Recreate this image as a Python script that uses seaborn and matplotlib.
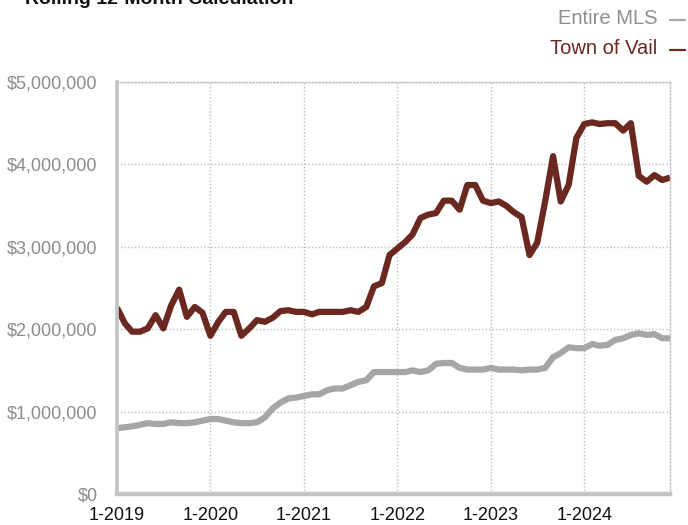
import matplotlib
matplotlib.use('Agg')
import matplotlib.pyplot as plt
import matplotlib.dates as mdates
import matplotlib.ticker as mticker
import pandas as pd
import seaborn as sns

# rolling 12-month median, in $ millions, monthly 1-2019 .. 12-2024
months = pd.date_range('2019-01-01', '2024-12-01', freq='MS')

vail = [2.26, 2.07, 1.97, 1.97, 2.01, 2.17, 2.01, 2.29, 2.48, 2.15, 2.27, 2.20,
        1.92, 2.09, 2.21, 2.21, 1.92, 2.01, 2.11, 2.09, 2.14, 2.22, 2.23, 2.21,
        2.21, 2.18, 2.21, 2.21, 2.21, 2.21, 2.23, 2.21, 2.27, 2.52, 2.56, 2.90,
        2.98, 3.06, 3.15, 3.35, 3.39, 3.41, 3.56, 3.56, 3.45, 3.75, 3.75, 3.56,
        3.53, 3.55, 3.50, 3.42, 3.36, 2.90, 3.05, 3.55, 4.10, 3.55, 3.75, 4.32,
        4.49, 4.51, 4.49, 4.50, 4.50, 4.41, 4.50, 3.86, 3.79, 3.87, 3.81, 3.84]

mls = [0.80, 0.81, 0.82, 0.84, 0.86, 0.85, 0.85, 0.87, 0.86, 0.86, 0.87, 0.89,
       0.91, 0.91, 0.89, 0.87, 0.86, 0.86, 0.87, 0.93, 1.04, 1.11, 1.16, 1.17,
       1.19, 1.21, 1.21, 1.26, 1.28, 1.28, 1.32, 1.36, 1.38, 1.48, 1.48, 1.48,
       1.48, 1.48, 1.50, 1.48, 1.50, 1.58, 1.59, 1.59, 1.53, 1.51, 1.51, 1.51,
       1.53, 1.51, 1.51, 1.51, 1.50, 1.51, 1.51, 1.53, 1.66, 1.71, 1.78, 1.77,
       1.77, 1.82, 1.80, 1.81, 1.87, 1.89, 1.93, 1.95, 1.93, 1.94, 1.89, 1.89]

series_names = ['Entire MLS', 'Town of Vail']
colors = {'Entire MLS': '#a6a6a6', 'Town of Vail': '#6b2820'}
label_colors = {'Entire MLS': '#8f8f8f', 'Town of Vail': '#6b2820'}

df = pd.concat([
    pd.DataFrame({'month': months, 'price': [v * 1e6 for v in mls], 'area': 'Entire MLS'}),
    pd.DataFrame({'month': months, 'price': [v * 1e6 for v in vail], 'area': 'Town of Vail'}),
])

sns.set_style('white')
plt.rcParams['font.family'] = ['Liberation Sans', 'DejaVu Sans']

fig = plt.figure(figsize=(6.88, 5.25), dpi=100)
ax = fig.add_axes([117 / 688, 1 - 494 / 525, (670 - 117) / 688, (494 - 82) / 525])

sns.lineplot(data=df, x='month', y='price', hue='area', hue_order=series_names,
             palette=colors, linewidth=4.5, ax=ax, legend=False,
             solid_joinstyle='round', solid_capstyle='butt')

ax.set_xlim(months[0], months[-1])
ax.set_ylim(0, 5e6)
ax.xaxis.set_major_locator(mdates.YearLocator(month=1))
ax.xaxis.set_major_formatter(mticker.FuncFormatter(
    lambda x, p: f"{mdates.num2date(x).month}-{mdates.num2date(x).year}"))
ax.yaxis.set_major_locator(mticker.MultipleLocator(1e6))
ax.yaxis.set_major_formatter(mticker.FuncFormatter(lambda v, p: f"${v:,.0f}"))
ax.set_xlabel('')
ax.set_ylabel('')

ax.grid(True, color='#bdbdbd', linestyle=(0, (1, 1.5)), linewidth=1)
ax.set_axisbelow(True)

for side in ['top', 'right']:
    ax.spines[side].set_visible(True)
    ax.spines[side].set_color('#bdbdbd')
    ax.spines[side].set_linestyle((0, (1, 1.5)))
    ax.spines[side].set_linewidth(1)
ax.spines['left'].set_color('#c4c4c4')
ax.spines['left'].set_linewidth(2.6)
ax.spines['bottom'].set_color('#c4c4c4')
ax.spines['bottom'].set_linewidth(3.2)

ax.tick_params(axis='y', labelsize=13, labelcolor='#8c8c8c', length=0, pad=14)
ax.tick_params(axis='x', labelsize=13, labelcolor='#111111', length=4,
               width=2.5, color='#c4c4c4', direction='out', pad=5)

fig.text(25 / 688, 1 - 4 / 525, 'Rolling 12-Month Calculation', fontsize=14,
         fontweight='bold', color='#111111', va='baseline', ha='left')

# legend: text right-aligned with a short dash after it
for name, ytop in zip(series_names, [19, 49]):
    yf = 1 - ytop / 525
    fig.text(657 / 688, yf, name, fontsize=14.5, color=label_colors[name],
             ha='right', va='center')
    fig.add_artist(plt.Line2D([670 / 688, 685 / 688], [yf - 0.002, yf - 0.002],
                              color=colors[name], linewidth=1.6, transform=fig.transFigure))

fig.savefig('out.png', dpi=100)
